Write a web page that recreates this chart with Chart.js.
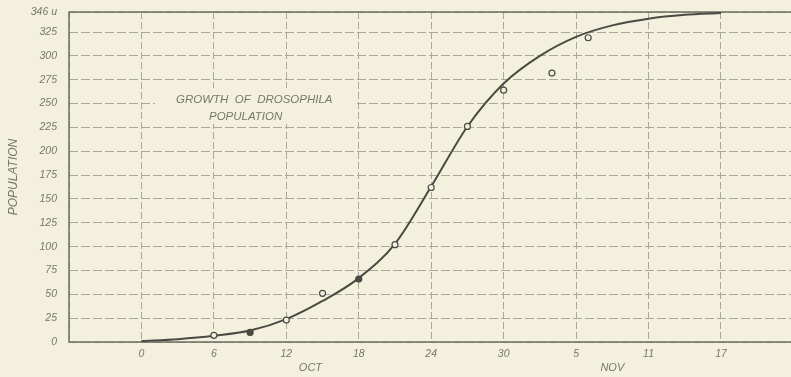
<!DOCTYPE html>
<html>
<head>
<meta charset="utf-8">
<script src="https://cdn.jsdelivr.net/npm/chart.js@4/dist/chart.umd.min.js"></script>
<style>
  html, body { margin: 0; padding: 0; background: #f3f1dd; }
  #chart { display: block; }
</style>
</head>
<body>
<canvas id="chart" width="791" height="377"></canvas>
<script>
// Smooth fitted curve (day from Oct 0 -> population)
const curveDays = [0, 3, 6, 9, 12, 15, 18, 21, 24, 27, 30, 33, 36, 39, 42, 45, 48];
const curveValues = [1, 3, 6.5, 12, 24, 43, 67, 103, 163, 226, 271, 300, 320, 332, 339, 343, 345];

// Observed counts (circles); two of them are drawn filled
const obsDays = [6, 9, 12, 15, 18, 21, 24, 27, 30, 34, 37];
const obsValues = [7, 10, 23, 51, 66, 102, 162, 226, 264, 282, 319];
const obsFilled = [false, true, false, false, true, false, false, false, false, false, false];

// Axis ticks
const xTickDays = [0, 6, 12, 18, 24, 30, 36, 42, 48];
const xTickLabels = ['0', '6', '12', '18', '24', '30', '5', '11', '17'];
const yTickValues = [0, 25, 50, 75, 100, 125, 150, 175, 200, 225, 250, 275, 300, 325, 346];
const yTickLabels = ['0', '25', '50', '75', '100', '125', '150', '175', '200', '225', '250', '275', '300', '325', '346 u'];

const monthLabels = ['OCT', 'NOV'];
const monthDays = [14, 39];

const titleLines = ['GROWTH  OF  DROSOPHILA', 'POPULATION'];

const PAPER = '#f3f1dd';
const INK = '#4a4a44';
const GRID = '#a9a89a';
const TEXT = '#77776c';
const FONT = '"Liberation Sans", "DejaVu Sans", sans-serif';

const paperPlugin = {
  id: 'paper',
  beforeDraw(chart) {
    const ctx = chart.ctx;
    ctx.save();
    ctx.fillStyle = PAPER;
    ctx.fillRect(0, 0, chart.width, chart.height);
    ctx.restore();
  },
  beforeDatasetsDraw(chart) {
    const { ctx, chartArea: a, scales } = chart;
    ctx.save();
    // frame: left, bottom, top
    ctx.strokeStyle = '#6d6c62';
    ctx.lineWidth = 1.5;
    ctx.beginPath();
    ctx.moveTo(a.right, a.top);
    ctx.lineTo(a.left, a.top);
    ctx.lineTo(a.left, a.bottom);
    ctx.lineTo(a.right, a.bottom);
    ctx.stroke();

    // title block, blanking the grid behind it
    ctx.fillStyle = PAPER;
    ctx.fillRect(a.left + 86, 88, 200, 36);
    ctx.fillStyle = TEXT;
    ctx.font = 'italic 11.5px ' + FONT;
    ctx.textBaseline = 'middle';
    ctx.textAlign = 'left';
    ctx.fillText(titleLines[0], a.left + 107, 100);
    ctx.fillText(titleLines[1], a.left + 140, 117);

    // month labels under the axis
    ctx.font = 'italic 11px ' + FONT;
    ctx.textAlign = 'center';
    monthLabels.forEach((m, i) => {
      ctx.fillText(m, scales.x.getPixelForValue(monthDays[i]), 368);
    });
    ctx.restore();
  }
};

new Chart(document.getElementById('chart'), {
  type: 'line',
  data: {
    datasets: [
      {
        label: 'curve',
        data: curveDays.map((d, i) => ({ x: d, y: curveValues[i] })),
        borderColor: INK,
        borderWidth: 2,
        pointRadius: 0,
        cubicInterpolationMode: 'monotone',
        fill: false,
        order: 2
      },
      {
        label: 'observed',
        type: 'scatter',
        data: obsDays.map((d, i) => ({ x: d, y: obsValues[i] })),
        pointRadius: 3,
        pointBorderWidth: 1.2,
        pointBorderColor: INK,
        pointBackgroundColor: obsFilled.map(f => (f ? INK : PAPER)),
        showLine: false,
        order: 1
      }
    ]
  },
  options: {
    responsive: false,
    animation: false,
    layout: { autoPadding: false, padding: { top: 12, right: 0, left: 0, bottom: 0 } },
    plugins: {
      legend: { display: false },
      tooltip: { enabled: false }
    },
    scales: {
      x: {
        type: 'linear',
        min: -6,
        max: 53.8,
        afterBuildTicks(scale) {
          const t = [];
          for (let v = -6; v <= 48; v += 6) t.push({ value: v });
          scale.ticks = t;
        },
        afterFit(scale) {
          scale.height = 35;
          scale.paddingLeft = 0;
          scale.paddingRight = 0;
        },
        grid: { color: GRID, lineWidth: 1, drawTicks: false },
        border: { display: false, dash: [7, 3] },
        ticks: {
          color: TEXT,
          padding: 6,
          maxRotation: 0,
          autoSkip: false,
          font: { family: FONT, style: 'italic', size: 10.5 },
          callback(v) {
            const i = xTickDays.indexOf(v);
            return i >= 0 ? xTickLabels[i] : '';
          }
        }
      },
      y: {
        type: 'linear',
        min: 0,
        max: 346,
        afterBuildTicks(scale) {
          scale.ticks = yTickValues.map(v => ({ value: v }));
        },
        afterFit(scale) {
          scale.width = 69;
          scale.paddingTop = 0;
          scale.paddingBottom = 0;
        },
        grid: { color: GRID, lineWidth: 1, drawTicks: false },
        border: { display: false, dash: [9, 3] },
        title: {
          display: true,
          text: 'POPULATION',
          color: TEXT,
          padding: { top: 6, bottom: 0 },
          font: { family: FONT, style: 'italic', size: 12 }
        },
        ticks: {
          color: TEXT,
          padding: 12,
          autoSkip: false,
          font: { family: FONT, style: 'italic', size: 10.5 },
          callback(v) {
            const i = yTickValues.indexOf(v);
            return i >= 0 ? yTickLabels[i] : '';
          }
        }
      }
    }
  },
  plugins: [paperPlugin]
});
</script>
</body>
</html>
